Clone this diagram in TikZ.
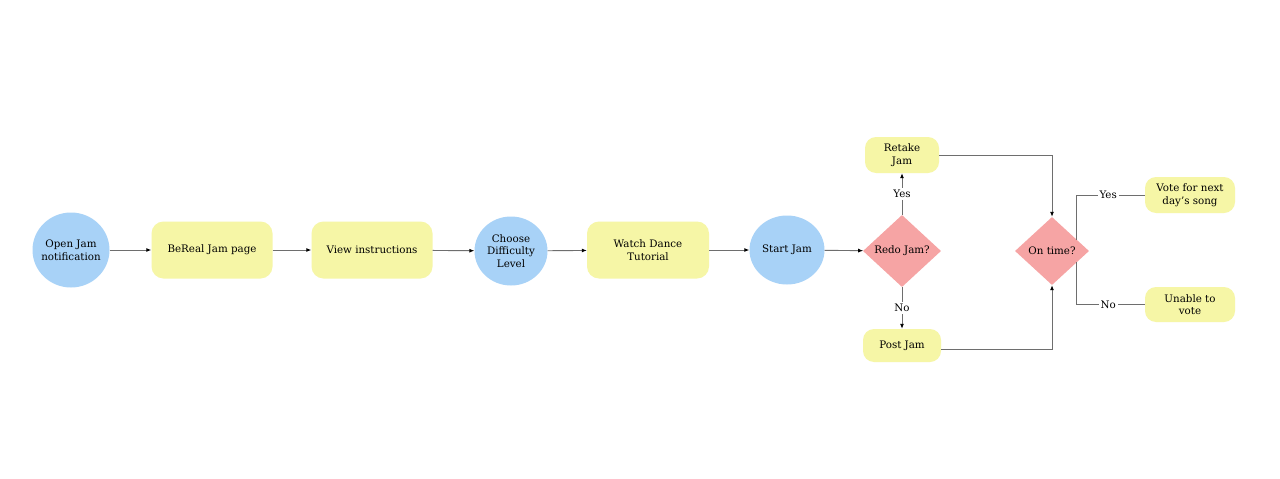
\documentclass[tikz,border=0pt]{standalone}
\usepackage{fontspec}
\setmainfont{DejaVu Serif}
\usetikzlibrary{shapes.geometric,arrows.meta,calc}
\definecolor{cblue}{HTML}{A8D2F7}
\definecolor{cyellow}{HTML}{F6F6A6}
\definecolor{cpink}{HTML}{F6A4A4}
\definecolor{cline}{HTML}{6E6E6E}
\begin{document}
\begin{tikzpicture}[x=1pt,y=-1pt,
  every node/.style={font=\fontsize{10.3}{12.5}\selectfont, text=black},
  roundel/.style={ellipse, fill=cblue, inner sep=0pt},
  boxnode/.style={rectangle, rounded corners=12pt, fill=cyellow, align=center, inner sep=0pt},
  decision/.style={diamond, fill=cpink, inner sep=0pt},
  conn/.style={draw=cline, line width=0.9pt, -{Latex[length=5pt,width=4pt,color=black]}},
  plain/.style={draw=cline, line width=0.9pt},
  lbl/.style={fill=white, inner sep=2pt}
]
\useasboundingbox (0,0) rectangle (1280,479);
\fill[white] (0,0) rectangle (1280,479);

\node[roundel, minimum width=77pt, minimum height=75pt, label={[align=center]center:Open Jam\\notification}] (open) at (71,250) {};
\node[boxnode, minimum width=121pt, minimum height=57pt] (bereal) at (212,250) {BeReal Jam page};
\node[boxnode, minimum width=121pt, minimum height=57pt] (view) at (372,250) {View instructions};
\node[roundel, minimum width=73pt, minimum height=69pt, label={[align=center]center:Choose\\Difficulty\\Level}] (choose) at (511,251) {};
\node[boxnode, minimum width=122pt, minimum height=57pt] (watch) at (648,250) {Watch Dance\\Tutorial};
\node[roundel, minimum width=75pt, minimum height=69pt, label={[align=center]center:Start Jam}] (start) at (787,250) {};
\node[decision, minimum width=78pt, minimum height=72pt, label={center:Redo Jam?}] (redo) at (902,251) {};
\node[boxnode, minimum width=74pt, minimum height=36pt, rounded corners=11pt] (retake) at (902,155) {Retake\\Jam};
\node[boxnode, minimum width=78pt, minimum height=33pt, rounded corners=11pt] (post) at (902,345.5) {Post Jam};
\node[decision, minimum width=74pt, minimum height=68pt, label={center:On time?}] (ontime) at (1052,251) {};
\node[boxnode, minimum width=90pt, minimum height=36pt, rounded corners=11pt] (vote) at (1190,195) {Vote for next\\day's song};
\node[boxnode, minimum width=90pt, minimum height=35pt, rounded corners=11pt] (unable) at (1190,304.5) {Unable to\\vote};

\draw[conn] (open) -- (bereal);
\draw[conn] (bereal) -- (view);
\draw[conn] (view) -- (choose);
\draw[conn] (choose) -- (watch);
\draw[conn] (watch) -- (start);
\draw[conn] (start) -- (redo);
\draw[conn] (redo.north) -- node[lbl] {Yes} (retake.south);
\draw[conn] (redo.south) -- node[lbl] {No} (post.north);
\draw[conn] (retake.east) -| (ontime.north);
\draw[conn] ([yshift=-3.5pt]post.east) -| (ontime.south);
\coordinate (oy) at ($(ontime.east)!0.33!(ontime.north)$);
\coordinate (on) at ($(ontime.east)!0.33!(ontime.south)$);
\draw[plain] (oy) |- node[lbl, pos=0.73] {Yes} (vote.west);
\draw[plain] (on) |- node[lbl, pos=0.73] {No} (unable.west);
\end{tikzpicture}
\end{document}
